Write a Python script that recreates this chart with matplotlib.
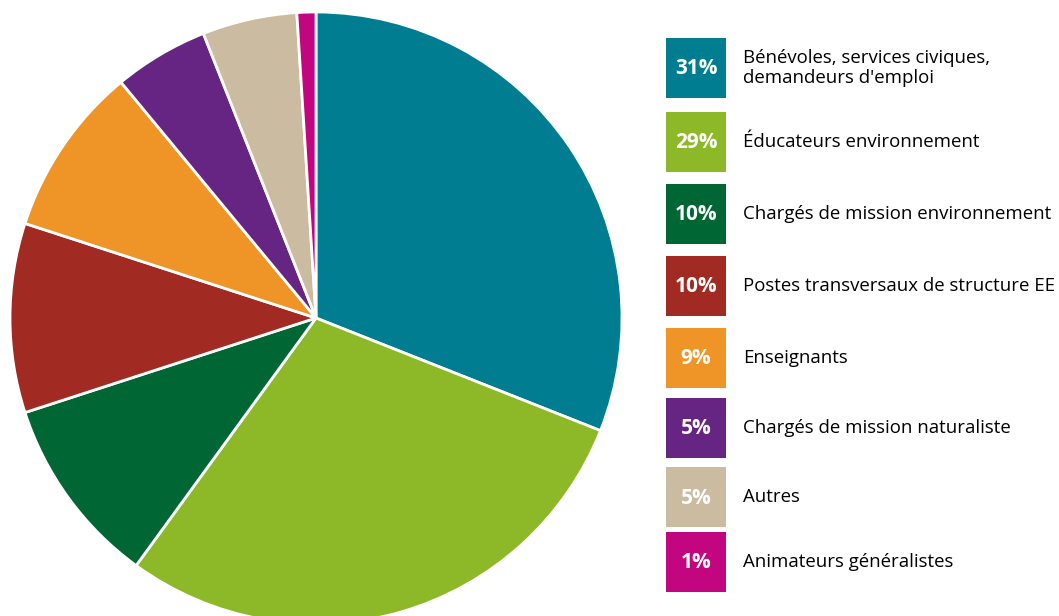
import matplotlib
matplotlib.use("Agg")
import matplotlib.pyplot as plt
from matplotlib.patches import Rectangle

labels = ["Bénévoles, services civiques,\ndemandeurs d'emploi",
          "Éducateurs environnement",
          "Chargés de mission environnement",
          "Postes transversaux de structure EE",
          "Enseignants",
          "Chargés de mission naturaliste",
          "Autres",
          "Animateurs généralistes"]
values = [31, 29, 10, 10, 9, 5, 5, 1]
colors = ["#007D91", "#8DB827", "#006633", "#A12A22",
          "#EF9427", "#662483", "#CBBBA0", "#C2067F"]
# top of each legend box, in pixels from the top of the image
box_top = [38, 112, 184, 256, 328, 398, 467, 532]

W, H = 1059, 616
fig = plt.figure(figsize=(W / 100, H / 100), dpi=100)

# pie: center (316, 318), radius 306 px
r = 306
ax = fig.add_axes([(316 - r) / W, (H - 318 - r) / H, 2 * r / W, 2 * r / H])
ax.pie(values, colors=colors, startangle=90, counterclock=False, radius=1,
       wedgeprops=dict(edgecolor="white", linewidth=2))
ax.set_xlim(-1, 1)
ax.set_ylim(-1, 1)
ax.set_aspect("auto")
ax.axis("off")

# legend drawn in figure pixel coords
lg = fig.add_axes([0, 0, 1, 1])
lg.set_xlim(0, W)
lg.set_ylim(H, 0)
lg.axis("off")
for lab, v, c, y in zip(labels, values, colors, box_top):
    lg.add_patch(Rectangle((666, y), 60, 60, facecolor=c, edgecolor="none"))
    lg.text(696, y + 31, f"{v}%", color="white", fontsize=15, fontweight="bold",
            ha="center", va="center", family="Open Sans")
    lg.text(743, y + 30, lab, color="black", fontsize=13.4, ha="left",
            va="center", family="Open Sans", linespacing=1.1)

fig.savefig("out.png", dpi=100)
